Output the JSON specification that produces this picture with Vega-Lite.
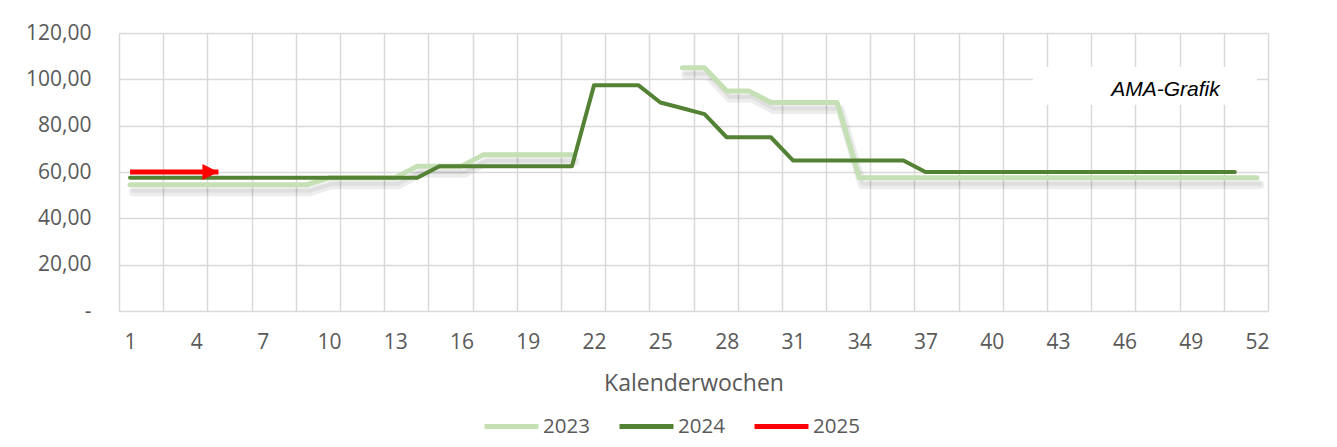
{
  "$schema": "https://vega.github.io/schema/vega-lite/v6.json",
  "width": 1149,
  "height": 278,
  "autosize": {"type": "none"},
  "padding": {"left": 119, "top": 33, "right": 69, "bottom": 136},
  "background": "white",
  "config": {
    "font": "Open Sans",
    "view": {"stroke": null},
    "axis": {"labelColor": "#595959", "titleColor": "#595959", "labelFont": "Open Sans", "titleFont": "Open Sans"}
  },
  "data": {
    "values": [
      {"w": 1, "a": 54.5, "b": 57.5, "c": 60},
      {"w": 2, "a": 54.5, "b": 57.5, "c": 60},
      {"w": 3, "a": 54.5, "b": 57.5, "c": 60},
      {"w": 4, "a": 54.5, "b": 57.5, "c": 60},
      {"w": 5, "a": 54.5, "b": 57.5, "c": 60},
      {"w": 6, "a": 54.5, "b": 57.5, "c": null},
      {"w": 7, "a": 54.5, "b": 57.5, "c": null},
      {"w": 8, "a": 54.5, "b": 57.5, "c": null},
      {"w": 9, "a": 54.5, "b": 57.5, "c": null},
      {"w": 10, "a": 57.5, "b": 57.5, "c": null},
      {"w": 11, "a": 57.5, "b": 57.5, "c": null},
      {"w": 12, "a": 57.5, "b": 57.5, "c": null},
      {"w": 13, "a": 57.5, "b": 57.5, "c": null},
      {"w": 14, "a": 62.5, "b": 57.5, "c": null},
      {"w": 15, "a": 62.5, "b": 62.5, "c": null},
      {"w": 16, "a": 62.5, "b": 62.5, "c": null},
      {"w": 17, "a": 67.5, "b": 62.5, "c": null},
      {"w": 18, "a": 67.5, "b": 62.5, "c": null},
      {"w": 19, "a": 67.5, "b": 62.5, "c": null},
      {"w": 20, "a": 67.5, "b": 62.5, "c": null},
      {"w": 21, "a": 67.5, "b": 62.5, "c": null},
      {"w": 22, "a": null, "b": 97.5, "c": null},
      {"w": 23, "a": null, "b": 97.5, "c": null},
      {"w": 24, "a": null, "b": 97.5, "c": null},
      {"w": 25, "a": null, "b": 90, "c": null},
      {"w": 26, "a": 105, "b": 87.5, "c": null},
      {"w": 27, "a": 105, "b": 85, "c": null},
      {"w": 28, "a": 95, "b": 75, "c": null},
      {"w": 29, "a": 95, "b": 75, "c": null},
      {"w": 30, "a": 90, "b": 75, "c": null},
      {"w": 31, "a": 90, "b": 65, "c": null},
      {"w": 32, "a": 90, "b": 65, "c": null},
      {"w": 33, "a": 90, "b": 65, "c": null},
      {"w": 34, "a": 57.5, "b": 65, "c": null},
      {"w": 35, "a": 57.5, "b": 65, "c": null},
      {"w": 36, "a": 57.5, "b": 65, "c": null},
      {"w": 37, "a": 57.5, "b": 60, "c": null},
      {"w": 38, "a": 57.5, "b": 60, "c": null},
      {"w": 39, "a": 57.5, "b": 60, "c": null},
      {"w": 40, "a": 57.5, "b": 60, "c": null},
      {"w": 41, "a": 57.5, "b": 60, "c": null},
      {"w": 42, "a": 57.5, "b": 60, "c": null},
      {"w": 43, "a": 57.5, "b": 60, "c": null},
      {"w": 44, "a": 57.5, "b": 60, "c": null},
      {"w": 45, "a": 57.5, "b": 60, "c": null},
      {"w": 46, "a": 57.5, "b": 60, "c": null},
      {"w": 47, "a": 57.5, "b": 60, "c": null},
      {"w": 48, "a": 57.5, "b": 60, "c": null},
      {"w": 49, "a": 57.5, "b": 60, "c": null},
      {"w": 50, "a": 57.5, "b": 60, "c": null},
      {"w": 51, "a": 57.5, "b": 60, "c": null},
      {"w": 52, "a": 57.5, "b": null, "c": null}
    ]
  },
  "resolve": {"axis": {"x": "independent"}},
  "layer": [
    {
      "mark": {"type": "line", "color": "#000000", "opacity": 0.07, "strokeWidth": 9, "xOffset": 3, "yOffset": 7, "strokeCap": "round", "strokeJoin": "round", "invalid": "break-paths-show-domains"},
      "encoding": {
        "x": {"field": "w", "type": "quantitative", "title": null,
          "scale": {"domain": [0.5, 52.5], "nice": false, "zero": false},
          "axis": {"orient": "bottom", "values": [0.5, 2.5, 4.5, 6.5, 8.5, 10.5, 12.5, 14.5, 16.5, 18.5, 20.5, 22.5, 24.5, 26.5, 28.5, 30.5, 32.5, 34.5, 36.5, 38.5, 40.5, 42.5, 44.5, 46.5, 48.5, 50.5, 52.5],
            "grid": true, "gridColor": "#d9d9d9", "gridWidth": 1.5, "labels": false, "ticks": false, "domain": false, "title": null}},
        "y": {"field": "a", "type": "quantitative", "title": null,
          "scale": {"domain": [0, 120], "nice": false, "zero": true},
          "axis": {"values": [0, 20, 40, 60, 80, 100, 120], "grid": true, "gridColor": "#d9d9d9", "gridWidth": 1.5, "domain": false, "ticks": false,
            "labelPadding": 28, "labelFontSize": 21,
            "labelExpr": "datum.value == 0 ? '-  ' : replace(format(datum.value, '.2f'), '.', ',')"}}
      }
    },
    {
      "mark": {"type": "line", "color": "#000000", "opacity": 0.06, "strokeWidth": 4, "xOffset": 3, "yOffset": 6, "strokeCap": "round", "strokeJoin": "round", "invalid": "break-paths-show-domains"},
      "encoding": {
        "x": {"field": "w", "type": "quantitative", "axis": null},
        "y": {"field": "a", "type": "quantitative", "title": null}
      }
    },
    {
      "data": {"values": [{"note": "AMA-Grafik"}]},
      "mark": {"type": "rect", "fill": "white", "stroke": null},
      "encoding": {
        "x": {"datum": 41.85, "type": "quantitative", "axis": null},
        "x2": {"datum": 52.0},
        "y": {"datum": 105.3, "type": "quantitative", "title": null},
        "y2": {"datum": 89}
      }
    },
    {
      "data": {"values": [{"note": "AMA-Grafik"}]},
      "mark": {"type": "text", "font": "Liberation Sans", "fontStyle": "italic", "fontSize": 21, "fill": "#000000", "align": "center", "baseline": "middle"},
      "encoding": {
        "text": {"field": "note", "type": "nominal"},
        "x": {"datum": 47.86, "type": "quantitative", "axis": null},
        "y": {"datum": 95.4, "type": "quantitative", "title": null}
      }
    },
    {
      "mark": {"type": "line", "strokeWidth": 5, "strokeCap": "round", "strokeJoin": "round", "invalid": "break-paths-show-domains"},
      "encoding": {
        "x": {"field": "w", "type": "quantitative", "title": "Kalenderwochen",
          "axis": {"orient": "bottom", "values": [1, 4, 7, 10, 13, 16, 19, 22, 25, 28, 31, 34, 37, 40, 43, 46, 49, 52], "format": "d",
            "grid": false, "ticks": false, "domain": false, "labelFontSize": 21, "labelPadding": 20,
            "titleFontSize": 23, "titleFontWeight": "normal", "titlePadding": 20}},
        "y": {"field": "a", "type": "quantitative", "title": null},
        "color": {"datum": "2023", "type": "nominal",
          "scale": {"domain": ["2023", "2024", "2025"], "range": ["#C5E0B4", "#548235", "#FF0000"]},
          "legend": {"orient": "none", "legendX": 363, "legendY": 364, "direction": "horizontal", "title": null,
            "symbolType": "stroke", "symbolSize": 2916, "symbolStrokeWidth": 5, "labelFontSize": 20.5, "labelColor": "#595959", "labelFont": "Open Sans",
            "labelOffset": 2, "columnPadding": 19}}
      }
    },
    {
      "mark": {"type": "line", "strokeWidth": 4, "strokeCap": "round", "strokeJoin": "round", "invalid": "break-paths-show-domains"},
      "encoding": {
        "x": {"field": "w", "type": "quantitative", "axis": null},
        "y": {"field": "b", "type": "quantitative", "title": null},
        "color": {"datum": "2024", "type": "nominal"}
      }
    },
    {
      "transform": [{"filter": "datum.c != null"}],
      "mark": {"type": "line", "strokeWidth": 5, "strokeCap": "butt"},
      "encoding": {
        "x": {"field": "w", "type": "quantitative", "axis": null},
        "y": {"field": "c", "type": "quantitative", "title": null},
        "color": {"datum": "2025", "type": "nominal"}
      }
    },
    {
      "transform": [{"filter": "datum.w == 5"}],
      "mark": {"type": "point", "shape": "M-1,-1L1,0L-1,1Z", "size": 256, "filled": true, "opacity": 1, "color": "#FF0000", "xOffset": -8},
      "encoding": {
        "x": {"field": "w", "type": "quantitative", "axis": null},
        "y": {"field": "c", "type": "quantitative", "title": null}
      }
    }
  ]
}
